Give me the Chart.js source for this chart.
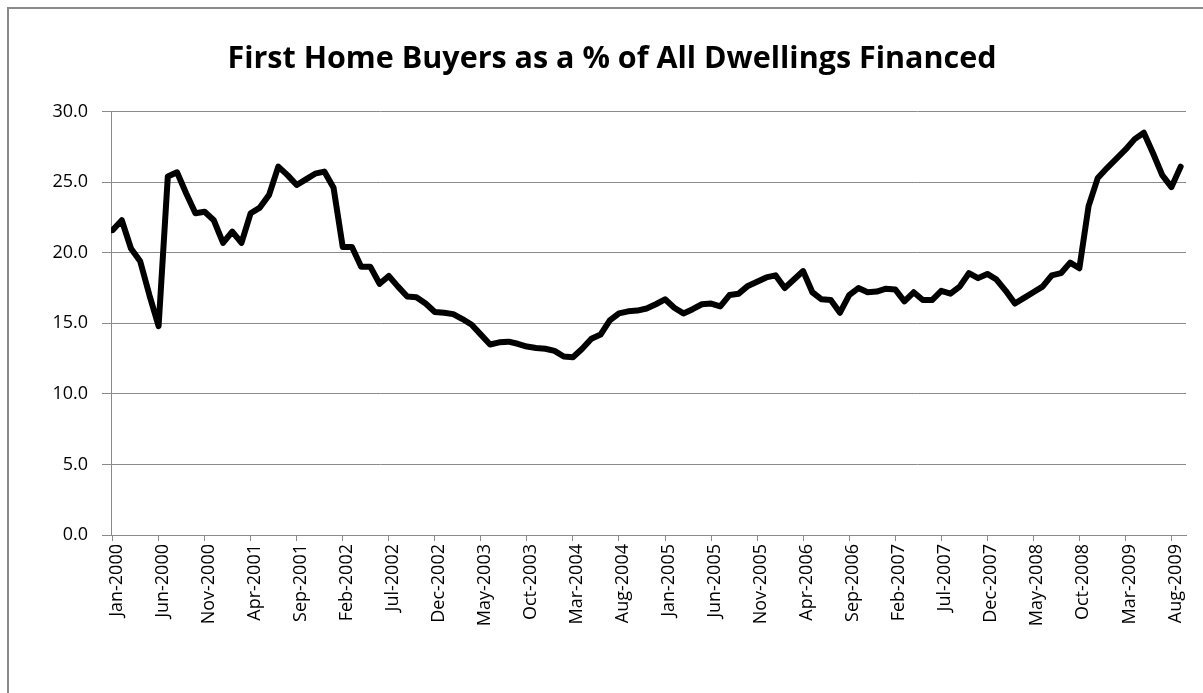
<!DOCTYPE html>
<html>
<head>
<meta charset="utf-8">
<script src="https://cdn.jsdelivr.net/npm/chart.js@4.4.0/dist/chart.umd.min.js"></script>
<style>
html, body { margin: 0; padding: 0; background: #fff; overflow: hidden; }
#wrap { position: absolute; left: 0; top: 0; width: 1203px; height: 693px; }
#frame { position: absolute; left: 7px; top: 7px; width: 1300px; height: 800px; border: 2px solid #8a8a8a; box-sizing: border-box; pointer-events: none; }
</style>
</head>
<body>
<div id="wrap"><canvas id="myChart" width="1203" height="693"></canvas></div>
<div id="frame"></div>
<script>
// monthly series, Jan-2000 .. Sep-2009
var tickLabels = [
    'Jan-2000', 'Jun-2000', 'Nov-2000', 'Apr-2001', 'Sep-2001', 'Feb-2002',
    'Jul-2002', 'Dec-2002', 'May-2003', 'Oct-2003', 'Mar-2004', 'Aug-2004',
    'Jan-2005', 'Jun-2005', 'Nov-2005', 'Apr-2006', 'Sep-2006', 'Feb-2007',
    'Jul-2007', 'Dec-2007', 'May-2008', 'Oct-2008', 'Mar-2009', 'Aug-2009'
];
var firstHomeBuyers = [
    21.6, 22.3, 20.3, 19.4, 17.0, 14.8, 25.4, 25.7, 24.2, 22.8, 22.9, 22.3,
    20.7, 21.5, 20.7, 22.8, 23.2, 24.1, 26.1, 25.5, 24.8, 25.2, 25.6, 25.75,
    24.6, 20.4, 20.4, 19.0, 19.0, 17.8, 18.35, 17.6, 16.9, 16.85, 16.4, 15.8,
    15.75, 15.65, 15.3, 14.9, 14.2, 13.5, 13.65, 13.7, 13.55, 13.35, 13.25, 13.2,
    13.05, 12.65, 12.6, 13.2, 13.9, 14.2, 15.2, 15.7, 15.85, 15.9, 16.05, 16.35,
    16.7, 16.1, 15.7, 16.0, 16.35, 16.4, 16.2, 17.0, 17.1, 17.65, 17.95, 18.25,
    18.4, 17.5, 18.1, 18.7, 17.2, 16.7, 16.65, 15.75, 17.0, 17.5, 17.2, 17.25,
    17.45, 17.4, 16.55, 17.2, 16.65, 16.65, 17.3, 17.1, 17.6, 18.55, 18.2, 18.5,
    18.1, 17.3, 16.4, 16.8, 17.2, 17.6, 18.4, 18.55, 19.3, 18.9, 23.3, 25.3,
    26.0, 26.65, 27.3, 28.05, 28.5, 27.05, 25.5, 24.65, 26.1
];
var labelStep = 5;

var points = firstHomeBuyers.map(function (v, i) { return { x: i, y: v }; });
var axisGray = '#8a8a8a';
var tickFont = { family: 'Open Sans', size: 18 };

const config = {
    type: 'line',
    data: {
        datasets: [{
            label: 'First Home Buyers',
            data: points,
            borderColor: '#000',
            borderWidth: 6,
            borderJoinStyle: 'round',
            borderCapStyle: 'round',
            pointRadius: 0,
            tension: 0,
            fill: false
        }]
    },
    options: {
        responsive: false,
        animation: false,
        devicePixelRatio: 1,
        layout: { padding: { left: 38, right: 17, top: 0, bottom: 8 } },
        plugins: {
            legend: { display: false },
            tooltip: { enabled: false },
            title: {
                display: true,
                text: 'First Home Buyers as a % of All Dwellings Financed',
                color: '#000',
                font: { family: 'Open Sans', size: 30.5, weight: 'bold' },
                padding: { top: 41, bottom: 34 }
            }
        },
        scales: {
            x: {
                type: 'linear',
                min: -0.17,
                max: 116.58,
                afterBuildTicks: function (s) {
                    s.ticks = tickLabels.map(function (t, k) { return { value: k * labelStep }; });
                },
                afterFit: function (s) { s.height = 150; },
                ticks: {
                    autoSkip: false,
                    minRotation: 90,
                    maxRotation: 90,
                    padding: 3,
                    labelOffset: 4,
                    color: '#000',
                    font: tickFont,
                    callback: function (v, i) { return tickLabels[i]; }
                },
                grid: { drawOnChartArea: false, drawTicks: true, tickLength: 6, color: axisGray },
                border: { color: axisGray, width: 1 }
            },
            y: {
                min: 0,
                max: 30,
                afterFit: function (s) { s.width = 73; },
                ticks: {
                    stepSize: 5,
                    padding: 14,
                    color: '#000',
                    font: tickFont,
                    callback: function (v) { return v.toFixed(1); }
                },
                grid: { color: axisGray, tickLength: 9 },
                border: { color: axisGray, width: 1 }
            }
        }
    }
};

const myChart = new Chart(document.getElementById('myChart'), config);
</script>
</body>
</html>
